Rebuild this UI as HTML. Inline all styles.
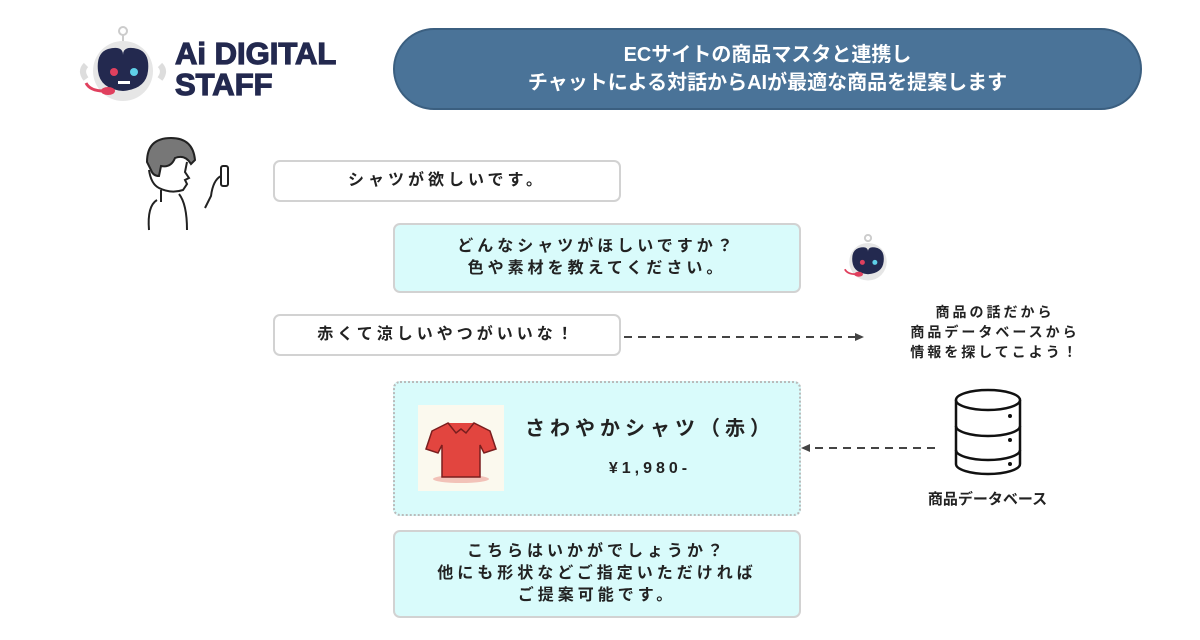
<!DOCTYPE html>
<html><head><meta charset="utf-8"><style>
body{margin:0;width:1200px;height:640px;background:#fff;position:relative;overflow:hidden;font-family:"Liberation Sans","Noto Sans CJK JP",sans-serif;}
.b{position:absolute;box-sizing:border-box;border:2px solid #d2d2d2;border-radius:7px;display:flex;flex-direction:column;align-items:center;justify-content:center;font-size:16px;font-weight:bold;letter-spacing:4px;color:#222;line-height:22px;text-align:center}
.c{background:#d9fbfb}
.t{position:absolute;font-weight:bold;color:#222;text-align:center}
</style></head><body>
<svg style="position:absolute;left:78px;top:25px" width="90" height="80" viewBox="0 0 90 80">
<circle cx="45" cy="6" r="4" fill="none" stroke="#ccc" stroke-width="2"/><line x1="45" y1="10" x2="45" y2="18" stroke="#ccc" stroke-width="2"/>
<circle cx="45" cy="46" r="30" fill="#e6e6e6"/>
<path d="M8 40 q-6 6 0 14 M82 40 q6 6 0 14" stroke="#ddd" stroke-width="6" fill="none"/>
<path d="M30 24 q15 -4 15 6 q0 -10 15 -6 q12 4 10 22 q-2 18 -25 20 q-23 -2 -25 -20 q-2 -18 10 -22z" fill="#23294f"/>
<circle cx="36" cy="47" r="4" fill="#e0405e"/><circle cx="56" cy="47" r="4" fill="#5fd0e8"/>
<rect x="40" y="56" width="12" height="3" fill="#fff"/>
<path d="M8 58 q4 8 18 8" stroke="#e0405e" stroke-width="3" fill="none"/><ellipse cx="30" cy="66" rx="7" ry="4" fill="#e0405e"/>
</svg>
<div class="t" style="left:175px;top:38px;font-size:31px;line-height:31px;color:#23294f;text-align:left;letter-spacing:0px;font-weight:900;-webkit-text-stroke:1.2px #23294f">Ai DIGITAL<br>STAFF</div>
<div style="position:absolute;left:393px;top:28px;width:749px;height:82px;background:#4a7398;border:2px solid #3b5f80;box-sizing:border-box;border-radius:41px;color:#fff;font-weight:bold;font-size:20px;line-height:28px;display:flex;flex-direction:column;align-items:center;justify-content:center;text-align:center">ECサイトの商品マスタと連携し<br>チャットによる対話からAIが最適な商品を提案します</div>
<svg style="position:absolute;left:135px;top:132px" width="105" height="105" viewBox="0 0 105 105" fill="none" stroke="#222" stroke-width="2">
<path d="M12 30 q0 -24 24 -24 q22 0 24 22 l-4 4 q-6 -10 -16 -6 q-4 10 -14 8 l-2 10 q-6 0 -8 -6z" fill="#777"/>
<path d="M14 38 q2 14 10 18 q12 6 24 2 l4 -6 l-2 -4 l4 -2 l-4 -6 l2 -10"/>
<path d="M26 58 l0 12 M22 68 q-10 6 -8 30 M44 62 q8 10 8 36"/>
<rect x="86" y="34" width="7" height="20" rx="2"/><path d="M86 44 q-8 4 -10 20 l-6 12"/>
</svg>
<div class="b" style="left:273px;top:160px;width:348px;height:42px">シャツが欲しいです。</div>
<div class="b c" style="left:393px;top:223px;width:408px;height:70px">どんなシャツがほしいですか？<br>色や素材を教えてください。</div>
<svg style="position:absolute;left:833px;top:233px" width="70" height="50" viewBox="0 0 90 80">
<circle cx="45" cy="46" r="30" fill="#e6e6e6"/><circle cx="45" cy="8" r="5" fill="none" stroke="#ccc" stroke-width="3"/>
<path d="M30 24 q15 -4 15 6 q0 -10 15 -6 q12 4 10 22 q-2 18 -25 20 q-23 -2 -25 -20 q-2 -18 10 -22z" fill="#23294f"/>
<circle cx="36" cy="47" r="4" fill="#e0405e"/><circle cx="56" cy="47" r="4" fill="#5fd0e8"/>
<path d="M8 58 q4 8 18 8" stroke="#e0405e" stroke-width="3" fill="none"/><ellipse cx="30" cy="66" rx="7" ry="4" fill="#e0405e"/>
</svg>
<div class="b" style="left:273px;top:314px;width:348px;height:42px">赤くて涼しいやつがいいな！</div>
<svg style="position:absolute;left:0;top:0" width="1200" height="640">
<line x1="624" y1="337" x2="856" y2="337" stroke="#444" stroke-width="2" stroke-dasharray="8,6"/>
<polygon points="864,337 855,333 855,341" fill="#444"/>
<line x1="935" y1="448" x2="810" y2="448" stroke="#444" stroke-width="2" stroke-dasharray="8,6"/>
<polygon points="801,448 810,444 810,452" fill="#444"/>
<g fill="#fff" stroke="#111" stroke-width="2.5">
<path d="M956 400 v64 a32 10 0 0 0 64 0 v-64"/>
<ellipse cx="988" cy="400" rx="32" ry="10"/>
<path d="M956 426 a32 10 0 0 0 64 0 M956 450 a32 10 0 0 0 64 0" fill="none"/>
</g>
<circle cx="1010" cy="416" r="2" fill="#111"/><circle cx="1010" cy="440" r="2" fill="#111"/><circle cx="1010" cy="464" r="2" fill="#111"/>
</svg>
<div class="t" style="left:880px;top:302px;width:230px;font-size:14px;line-height:20px;letter-spacing:3px">商品の話だから<br>商品データベースから<br>情報を探してこよう！</div>
<div class="b c" style="left:393px;top:381px;width:408px;height:135px;border:2px dotted #bbb;display:block"></div>
<div style="position:absolute;left:418px;top:405px;width:86px;height:86px;background:#fbf9ee"></div>
<svg style="position:absolute;left:418px;top:405px" width="86" height="86" viewBox="0 0 86 86">
<ellipse cx="43" cy="74" rx="28" ry="4" fill="#f2c2b8"/>
<path d="M30 18 l-16 8 l-6 18 l12 4 l4 -8 v32 h38 v-32 l4 8 l12 -4 l-6 -18 l-16 -8 q-13 8 -26 0z" fill="#e2453f" stroke="#7a1e1e" stroke-width="1.5"/>
<path d="M30 18 l8 10 l5 -4 l5 4 l8 -10" fill="#e2453f" stroke="#7a1e1e" stroke-width="1.5"/>
</svg>
<div class="t" style="left:515px;top:412px;width:270px;font-size:20px;letter-spacing:5px">さわやかシャツ（赤）</div>
<div class="t" style="left:515px;top:460px;width:270px;font-size:16px;letter-spacing:4px">¥1,980-</div>
<div class="t" style="left:905px;top:488px;width:165px;font-size:15px">商品データベース</div>
<div class="b c" style="left:393px;top:530px;width:408px;height:88px">こちらはいかがでしょうか？<br>他にも形状などご指定いただければ<br>ご提案可能です。</div>
</body></html>
